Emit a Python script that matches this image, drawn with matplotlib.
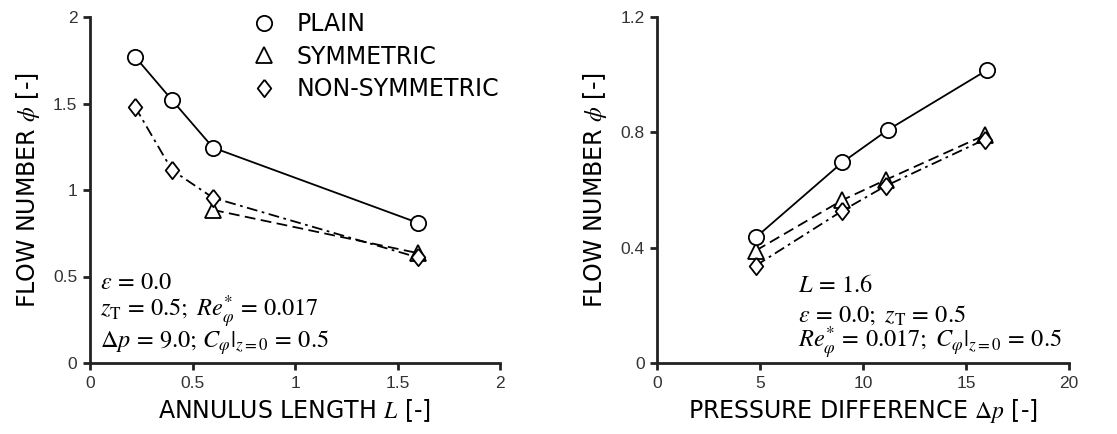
import matplotlib
matplotlib.use("Agg")
import matplotlib.pyplot as plt
from matplotlib.lines import Line2D

# ---- data: left panel (annulus length) ----
L_plain = [0.22, 0.40, 0.60, 1.60]
phi_plain_L = [1.77, 1.52, 1.245, 0.81]
L_sym = [0.60, 1.60]
phi_sym_L = [0.885, 0.635]
L_nonsym = [0.22, 0.40, 0.60, 1.60]
phi_nonsym_L = [1.48, 1.115, 0.955, 0.61]

# ---- data: right panel (pressure difference) ----
dp_plain = [4.8, 9.0, 11.2, 16.0]
phi_plain_dp = [0.436, 0.696, 0.808, 1.015]
dp_sym = [4.8, 9.0, 11.1, 15.9]
phi_sym_dp = [0.39, 0.565, 0.635, 0.79]
dp_nonsym = [4.8, 9.0, 11.1, 15.9]
phi_nonsym_dp = [0.338, 0.528, 0.614, 0.775]

legend_labels = ["PLAIN", "SYMMETRIC", "NON-SYMMETRIC"]
left_xticks = [0, 0.5, 1, 1.5, 2]
left_yticks = [0, 0.5, 1, 1.5, 2]
right_xticks = [0, 5, 10, 15, 20]
right_yticks = [0, 0.4, 0.8, 1.2]

plt.rcParams['font.family'] = ['DejaVu Sans']
plt.rcParams['mathtext.fontset'] = 'stix'

fig = plt.figure(figsize=(11.17, 4.34), dpi=100)
W, H = 1117, 434
axL = fig.add_axes([90 / W, (434 - 363) / H, 410 / W, 346 / H])
axR = fig.add_axes([657 / W, (434 - 363) / H, 412 / W, 346 / H])

DIAMOND = [(0, 1), (0.78, 0), (0, -1), (-0.78, 0), (0, 1)]
base = dict(markerfacecolor='white', markeredgecolor='black',
            markeredgewidth=1.3, color='black')
sizes = {'o': 11, '^': 11, 'd': 12.5}

def mstyle(m):
    marker = DIAMOND if m == 'd' else m
    return dict(marker=marker, markersize=sizes[m], **base)

def draw(ax, xp, yp, xs, ys, xn, yn):
    ax.plot(xs, ys, linestyle=(0, (6, 3)), linewidth=1.3, zorder=3, **mstyle('^'))
    ax.plot(xn, yn, linestyle=(0, (6, 2.5, 1.5, 2.5)), linewidth=1.3, zorder=3, **mstyle('d'))
    ax.plot(xp, yp, linestyle='-', linewidth=1.3, zorder=4, **mstyle('o'))

draw(axL, L_plain, phi_plain_L, L_sym, phi_sym_L, L_nonsym, phi_nonsym_L)
draw(axR, dp_plain, phi_plain_dp, dp_sym, phi_sym_dp, dp_nonsym, phi_nonsym_dp)

for ax in (axL, axR):
    for s in ('top', 'right'):
        ax.spines[s].set_visible(False)
    for s in ('left', 'bottom'):
        ax.spines[s].set_linewidth(2.0)
        ax.spines[s].set_color('#222222')
    ax.tick_params(direction='out', length=5, width=2.0, colors='#222222',
                   labelsize=12.5, labelcolor='#333333', pad=4)

axL.set_xlim(0, 2); axL.set_ylim(0, 2)
axL.set_xticks(left_xticks); axL.set_yticks(left_yticks)
axL.set_xticklabels(['0', '0.5', '1', '1.5', '2'], family='Liberation Sans')
axL.set_yticklabels(['0', '0.5', '1', '1.5', '2'], family='Liberation Sans')
axR.set_xlim(0, 20); axR.set_ylim(0, 1.2)
axR.set_xticks(right_xticks); axR.set_yticks(right_yticks)
axR.set_xticklabels(['0', '5', '10', '15', '20'], family='Liberation Sans')
axR.set_yticklabels(['0', '0.4', '0.8', '1.2'], family='Liberation Sans')

lf = 17
axL.set_xlabel(r'ANNULUS LENGTH $L$ [-]', fontsize=lf, labelpad=5)
axL.set_ylabel(r'FLOW NUMBER $\phi$ [-]', fontsize=lf, labelpad=8)
axR.set_xlabel(r'PRESSURE DIFFERENCE $\Delta p$ [-]', fontsize=lf, labelpad=5)
axR.set_ylabel(r'FLOW NUMBER $\phi$ [-]', fontsize=lf, labelpad=8)

handles = [Line2D([], [], linestyle='', **mstyle(m)) for m in ('o', '^', 'd')]
axL.legend(handles, legend_labels, loc='upper left', bbox_to_anchor=(0.373, 1.041),
           frameon=False, fontsize=lf, handlelength=1.0, handletextpad=0.86,
           labelspacing=0.36, borderaxespad=0)

fs = 17.5
axL.text(0.024, 0.234, r'$\varepsilon\, =\, 0.0$', transform=axL.transAxes, fontsize=fs, va='center')
axL.text(0.024, 0.147, r'$z_{\mathrm{T}}\, =\, 0.5;\ Re_{\varphi}^{*}\, =\, 0.017$', transform=axL.transAxes, fontsize=fs, va='center')
axL.text(0.024, 0.058, r'$\Delta p\, =\, 9.0;\, C_{\varphi}|_{z=0}\, =\, 0.5$', transform=axL.transAxes, fontsize=fs, va='center')

axR.text(0.342, 0.225, r'$L\, =\, 1.6$', transform=axR.transAxes, fontsize=fs, va='center')
axR.text(0.342, 0.139, r'$\varepsilon\, =\, 0.0;\ z_{\mathrm{T}}\, =\, 0.5$', transform=axR.transAxes, fontsize=fs, va='center')
axR.text(0.342, 0.058, r'$Re_{\varphi}^{*}\, =\, 0.017;\ C_{\varphi}|_{z=0}\, =\, 0.5$', transform=axR.transAxes, fontsize=fs, va='center')

fig.savefig('out.png', dpi=100)
